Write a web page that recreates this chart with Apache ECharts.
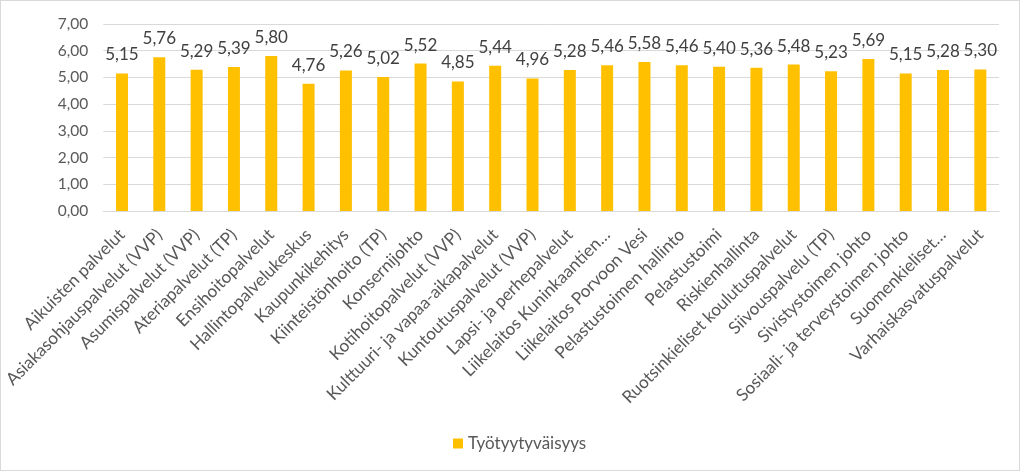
<!DOCTYPE html>
<html><head><meta charset="utf-8">
<script src="https://cdn.jsdelivr.net/npm/echarts@6/dist/echarts.min.js"></script>
<style>
html,body{margin:0;padding:0;background:#fff;}
#c{position:absolute;left:0;top:0;width:1020px;height:471px;border:1.5px solid #d9d9d9;box-sizing:border-box;}
</style></head>
<body><div id="c"></div>
<script>
const categories = ["Aikuisten palvelut","Asiakasohjauspalvelut (VVP)","Asumispalvelut (VVP)","Ateriapalvelut (TP)","Ensihoitopalvelut","Hallintopalvelukeskus","Kaupunkikehitys","Kiinteistönhoito (TP)","Konsernijohto","Kotihoitopalvelut (VVP)","Kulttuuri- ja vapaa-aikapalvelut","Kuntoutuspalvelut (VVP)","Lapsi- ja perhepalvelut","Liikelaitos Kuninkaantien…","Liikelaitos Porvoon Vesi","Pelastustoimen hallinto","Pelastustoimi","Riskienhallinta","Ruotsinkieliset koulutuspalvelut","Siivouspalvelu (TP)","Sivistystoimen johto","Sosiaali- ja terveystoimen johto","Suomenkieliset…","Varhaiskasvatuspalvelut"];
const values = [5.15,5.76,5.29,5.39,5.80,4.76,5.26,5.02,5.52,4.85,5.44,4.96,5.28,5.46,5.58,5.46,5.40,5.36,5.48,5.23,5.69,5.15,5.28,5.30];
const seriesName = "Työtyytyväisyys";
const fmt = v => Number(v).toFixed(2).replace('.', ',');
const FONT = "Lato, 'Open Sans', sans-serif";
const chart = echarts.init(document.getElementById('c'));
chart.setOption({
  animation:false,
  textStyle:{fontFamily:FONT},
  grid:{left:97,right:20,top:23,bottom:259,containLabel:false},
  legend:{data:[seriesName],left:447,top:429,icon:'rect',itemWidth:10,itemHeight:10,itemGap:5,
    textStyle:{fontSize:17,color:'#595959',fontFamily:FONT}},
  xAxis:{type:'category',data:categories,
    axisLine:{lineStyle:{color:'#d9d9d9',width:1}},
    axisTick:{show:false},
    axisLabel:{interval:0,rotate:45,fontSize:17.2,color:'#595959',margin:21,fontFamily:FONT}},
  yAxis:{type:'value',min:0,max:7,interval:1,
    axisLine:{show:false},axisTick:{show:false},
    splitLine:{lineStyle:{color:'#d9d9d9',width:1}},
    axisLabel:{formatter:fmt,fontSize:15.5,color:'#595959',margin:15,fontFamily:FONT}},
  series:[{name:seriesName,type:'bar',data:values,barWidth:12,
    itemStyle:{color:'#FFC000'},
    label:{show:true,position:'top',formatter:p=>fmt(p.value),fontSize:17,color:'#404040',distance:10,fontFamily:FONT}}]
});
</script></body></html>
